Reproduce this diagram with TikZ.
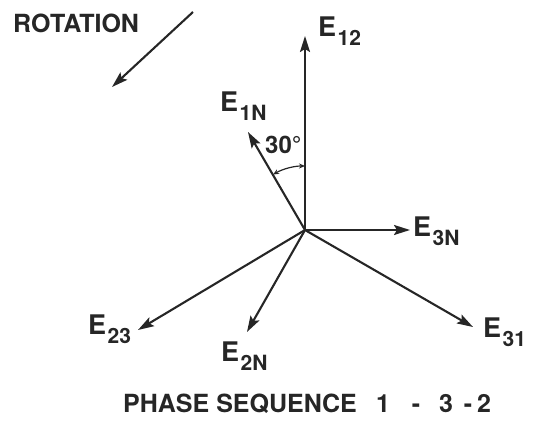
\documentclass[tikz,border=0pt]{standalone}
\usepackage{fontspec}
\setmainfont{TeX Gyre Heros}
\usetikzlibrary{arrows.meta}
\definecolor{ink}{HTML}{262626}
\newcommand{\Elbl}[1]{E\kern1.5pt\raisebox{-9pt}{\fontsize{21}{21}\selectfont #1}}
\begin{document}
\begin{tikzpicture}[x=1pt,y=1pt,
  vec/.style={line width=2.1pt, draw=ink, -{Stealth[length=16pt,width=10pt,inset=3pt]}},
  lbl/.style={anchor=base west, inner sep=0pt, font=\fontsize{27}{27}\selectfont\bfseries, text=ink},
  txt/.style={anchor=base west, inner sep=0pt, font=\fontsize{25}{25}\selectfont\bfseries, text=ink},
  num/.style={anchor=base, inner sep=0pt, font=\fontsize{25}{25}\selectfont\bfseries, text=ink},
  angarr/.style={line width=1.2pt, draw=ink, {Stealth[length=6pt,width=5pt]}-{Stealth[length=6pt,width=5pt]}}
]
\useasboundingbox (0,0) rectangle (535,427);
% centre and vector tips
\coordinate (O) at (305,197);
\coordinate (t12) at (305,391);
\coordinate (t1N) at (248,295);
\coordinate (t3N) at (410,197);
\coordinate (t31) at (473,100);
\coordinate (t2N) at (247,95);
\coordinate (t23) at (138,97);
\draw[vec] (O) -- (t12);
\draw[vec] (O) -- (t1N);
\draw[vec] (O) -- (t3N);
\draw[vec] (O) -- (t31);
\draw[vec] (O) -- (t2N);
\draw[vec] (O) -- (t23);
% angle arc
\draw[angarr] ([shift={(90:64)}]O) arc[start angle=90, end angle=120, radius=64];
\node[anchor=base west, inner sep=0pt, font=\fontsize{24}{24}\selectfont\bfseries, text=ink] (ang) at (265,273) {30°};
% labels
\node[lbl] (l12) at (318,390) {\Elbl{12}};
\node[lbl] (l1N) at (220,315) {\Elbl{1N}};
\node[lbl] (l3N) at (413,190) {\Elbl{3N}};
\node[lbl] (l31) at (483,89) {\Elbl{31}};
\node[lbl] (l2N) at (221,65) {\Elbl{2N}};
\node[lbl] (l23) at (88,92) {\Elbl{23}};
% rotation
\node[txt] (rot) at (13,394) {ROTATION};
\coordinate (r1) at (193,415);
\coordinate (r2) at (112,340);
\draw[vec] (r1) -- (r2);
% phase sequence
\node[txt] (ps) at (123,14) {PHASE SEQUENCE};
\node[num] (n1) at (383,14) {1};
\node[num] (d1) at (416,14) {-};
\node[num] (n3) at (446,14) {3};
\node[num] (d2) at (468,14) {-};
\node[num] (n2) at (484,14) {2};
\end{tikzpicture}
\end{document}
